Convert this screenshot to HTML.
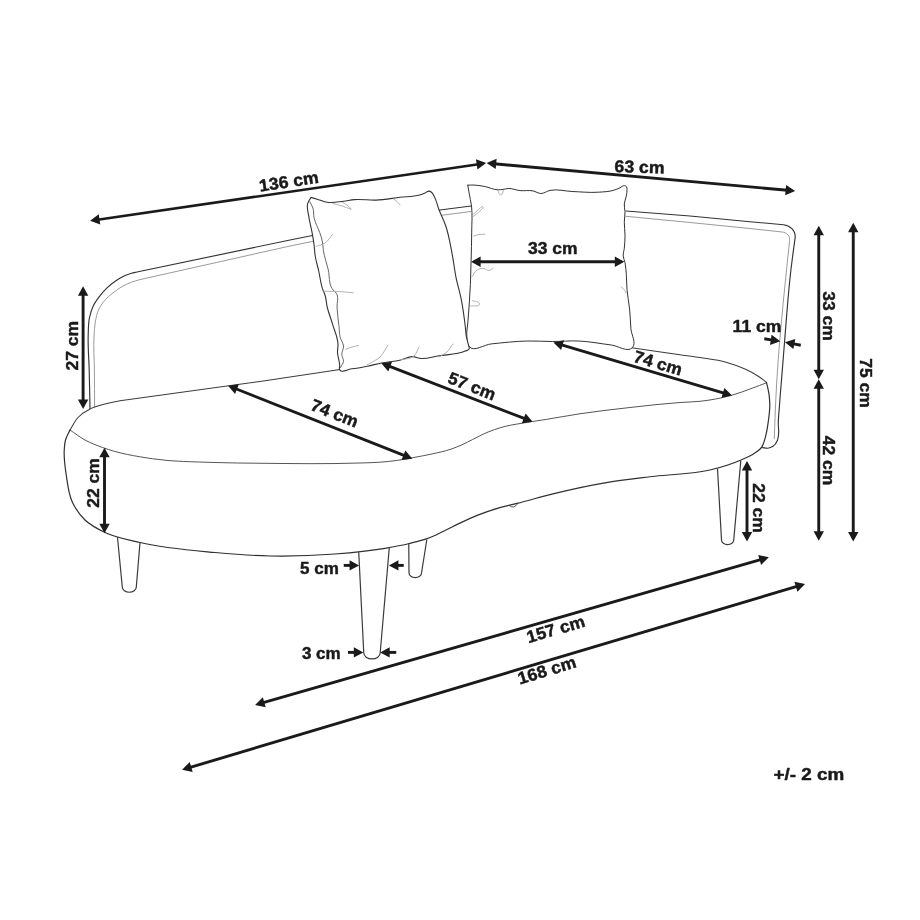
<!DOCTYPE html>
<html><head><meta charset="utf-8"><title>Sofa dimensions</title>
<style>
html,body{margin:0;padding:0;background:#fff;}
svg{display:block;will-change:transform;}
text{font-family:"Liberation Sans",sans-serif;font-weight:bold;fill:#1a1a1a;stroke:#1a1a1a;stroke-width:0.45px;stroke-linejoin:round;}
</style></head>
<body>
<svg width="920" height="920" viewBox="0 0 920 920">
<rect width="920" height="920" fill="#fff"/>
<path d="M90.00 408.50 C89.73 395.67 89.52 382.83 89.20 370.00 C88.91 358.33 87.76 346.66 88.20 335.00 C88.42 329.32 88.24 323.56 89.40 318.00 C90.26 313.89 91.36 309.77 93.20 306.00 C94.73 302.86 96.82 300.01 98.90 297.20 C101.22 294.06 103.71 291.02 106.50 288.30 C109.18 285.69 112.12 283.33 115.20 281.20 C117.70 279.47 120.27 277.82 123.00 276.50 C125.72 275.18 128.59 274.14 131.50 273.30 C133.31 272.78 135.17 272.43 137.00 272.00 L290 240 L440 210 L471 206" fill="none" stroke="#333333" stroke-width="1.15" stroke-linecap="round" stroke-linejoin="round" />
<path d="M94.60 407.00 C94.53 394.67 94.51 382.33 94.40 370.00 C94.30 359.00 93.39 347.98 94.00 337.00 C94.28 331.99 94.38 326.93 95.30 322.00 C96.12 317.61 96.96 313.12 98.90 309.10 C100.58 305.60 102.92 302.40 105.50 299.50 C108.33 296.32 111.78 293.74 115.20 291.20 C117.71 289.34 120.26 287.51 123.00 286.00 C125.72 284.50 128.59 283.29 131.50 282.20 C134.28 281.16 137.17 280.47 140.00 279.60 L290 246 L440 215.5 L471 211.5" fill="none" stroke="#9a9a9a" stroke-width="1.00" stroke-linecap="round" stroke-linejoin="round" />
<path d="M626 211 L690 216 L750 221.7 L783.5 224.7 C789.5 225.3 796.0 230 795.1 238 C793.70 248.67 792.16 259.32 790.90 270.00 C788.16 293.26 786.63 316.65 784.70 340.00 C783.80 350.86 782.97 361.73 782.10 372.60 C781.23 383.47 780.24 394.32 779.50 405.20 C779.06 411.70 778.18 418.19 778.30 424.70 C778.35 427.34 778.85 429.97 778.70 432.60 C778.55 435.23 778.45 437.98 777.40 440.40 C776.42 442.65 775.03 444.92 773.00 446.30 C771.47 447.34 769.63 448.00 767.80 448.20 C766.07 448.39 764.33 447.80 762.60 447.60" fill="none" stroke="#333333" stroke-width="1.15" stroke-linecap="round" stroke-linejoin="round" />
<path d="M626 216.3 L690 222.5 L750 228.5 L782 232 C786.5 232.6 790.2 235.5 789.6 240.5 C788.57 250.33 787.51 260.16 786.50 270.00 C784.11 293.32 781.71 316.64 779.80 340.00 C778.73 353.03 777.70 366.06 776.90 379.10 C776.10 392.12 775.51 405.16 775.00 418.20 C774.73 424.97 774.53 431.73 774.30 438.50" fill="none" stroke="#9a9a9a" stroke-width="1.00" stroke-linecap="round" stroke-linejoin="round" />
<path d="M70.00 430.00 C72.67 425.83 74.58 421.08 78.00 417.50 C81.39 413.96 85.64 411.24 90.00 409.00 C94.69 406.59 99.91 405.38 105.00 404.00 C109.93 402.66 115.00 401.87 120.00 400.80 L260 381.5 L340 369.5" fill="none" stroke="#3c3c3c" stroke-width="1.05" stroke-linecap="round" stroke-linejoin="round" />
<path d="M630.00 347.50 C646.67 349.93 663.32 352.44 680.00 354.80 C686.67 355.74 693.35 356.56 700.00 357.60 C708.73 358.96 717.59 359.82 726.10 362.20 C732.76 364.06 739.34 366.36 745.60 369.30 C750.11 371.41 754.56 373.73 758.70 376.50 C761.41 378.31 763.90 380.43 766.50 382.40" fill="none" stroke="#3c3c3c" stroke-width="1.05" stroke-linecap="round" stroke-linejoin="round" />
<path d="M70.00 430.00 C75.00 433.33 79.72 437.12 85.00 440.00 C90.57 443.04 96.55 445.29 102.50 447.50 C118.52 453.44 135.61 456.22 152.50 458.75 C173.14 461.84 194.14 461.77 215.00 462.50 C229.99 463.02 245.00 463.09 260.00 463.25 C293.33 463.61 326.69 464.12 360.00 463.00 C366.67 462.78 373.35 462.69 380.00 462.20 C385.82 461.77 391.63 461.22 397.40 460.40 C402.36 459.70 407.27 458.71 412.20 457.80 C418.88 456.57 425.57 455.38 432.20 453.90 C438.47 452.50 444.82 451.28 450.90 449.20 C454.57 447.95 458.16 446.47 461.70 444.90 C465.40 443.25 468.97 441.31 472.60 439.50 C476.24 437.68 479.79 435.67 483.50 434.00 C487.03 432.41 490.64 430.98 494.30 429.70 C497.88 428.45 501.52 427.32 505.20 426.40 C508.80 425.50 512.46 424.88 516.10 424.20 C521.51 423.19 526.96 422.36 532.40 421.50 C537.03 420.77 541.67 420.12 546.30 419.40 C557.55 417.65 568.74 415.44 580.00 413.75 C596.61 411.25 613.31 409.38 630.00 407.50 C646.64 405.63 663.29 403.69 680.00 402.50 C686.66 402.02 693.36 402.02 700.00 401.30 C710.55 400.15 721.07 398.25 731.30 395.40 C738.40 393.42 745.28 390.72 752.20 388.20 C756.99 386.46 761.73 384.60 766.50 382.80" fill="none" stroke="#555" stroke-width="1.00" stroke-linecap="round" stroke-linejoin="round" />
<path d="M70.00 430.00 C68.50 433.33 66.47 436.47 65.50 440.00 C64.61 443.24 64.47 446.65 64.25 450.00 C63.70 458.34 65.02 466.73 66.25 475.00 C67.63 484.30 68.42 494.03 72.50 502.50 C75.61 508.96 79.82 515.04 85.00 520.00 C90.68 525.44 97.92 529.09 105.00 532.50 C115.93 537.76 128.19 539.72 140.00 542.50 C164.55 548.27 189.89 550.17 215.00 552.50 C233.29 554.20 251.63 555.63 270.00 556.00 C291.67 556.44 313.39 555.68 335.00 554.00 C351.72 552.70 368.46 551.10 385.00 548.30 C393.17 546.92 401.35 545.46 409.40 543.50 C415.32 542.06 421.27 540.67 427.00 538.60 C432.49 536.62 437.72 533.98 443.00 531.50 C448.15 529.08 453.16 526.35 458.30 523.90 C464.74 520.83 471.17 517.73 477.80 515.10 C484.23 512.55 490.77 510.27 497.40 508.30 C503.86 506.38 510.47 505.07 517.00 503.40 C529.70 500.16 542.26 496.38 555.00 493.30 C571.55 489.30 588.21 485.65 605.00 482.80 C621.57 479.98 638.32 478.30 655.00 476.25 C673.31 474.00 692.07 474.36 710.00 470.00 C720.80 467.37 731.51 464.14 741.70 459.70 C745.25 458.15 748.91 456.75 752.20 454.70 C755.72 452.51 759.61 450.36 761.90 446.90 C763.68 444.21 764.28 440.89 765.20 437.80 C766.85 432.27 767.62 426.51 768.40 420.80 C769.10 415.63 769.82 410.42 769.80 405.20 C769.78 401.73 769.55 398.25 769.10 394.80 C768.55 390.61 767.37 386.53 766.50 382.40" fill="none" stroke="#303030" stroke-width="1.20" stroke-linecap="round" stroke-linejoin="round" />
<path d="M509.3 505.6 Q513.8 509.6 518 503.3" fill="none" stroke="#444" stroke-width="0.90" stroke-linecap="round" stroke-linejoin="round" />
<path d="M117.50 537.50 L122.30 587.00 A7.00 5.25 0 0 0 136.30 587.00 L140.00 542.50" fill="none" stroke="#3a3a3a" stroke-width="1.20" stroke-linecap="round" stroke-linejoin="round" />
<path d="M358.75 552.50 L363.75 652.80 A8.22 6.17 0 0 0 380.20 652.80 L389.25 548.00" fill="none" stroke="#3a3a3a" stroke-width="1.20" stroke-linecap="round" stroke-linejoin="round" />
<path d="M408.75 543.75 L409.00 573.00 A6.25 4.69 0 0 0 421.50 573.00 L426.75 540.00" fill="none" stroke="#3a3a3a" stroke-width="1.20" stroke-linecap="round" stroke-linejoin="round" />
<path d="M717.50 468.75 L721.50 540.00 A6.12 4.59 0 0 0 733.75 540.00 L740.75 461.25" fill="none" stroke="#3a3a3a" stroke-width="1.20" stroke-linecap="round" stroke-linejoin="round" />
<path d="M467.80 185.20 C469.53 185.13 471.27 184.98 473.00 185.00 C476.96 185.05 480.90 185.78 484.80 186.50 C489.20 187.32 493.33 189.74 497.80 189.80 C499.54 189.82 501.27 189.61 503.00 189.40 C504.78 189.18 506.51 188.61 508.30 188.50 C512.25 188.26 516.06 190.19 520.00 190.60 C524.31 191.05 528.75 190.03 533.00 190.90 C535.72 191.46 538.13 193.45 540.90 193.50 C544.10 193.56 546.87 191.08 550.00 190.40 C557.24 188.82 564.80 191.21 572.20 191.50 C580.90 191.84 589.62 192.80 598.30 192.20 C603.53 191.84 608.90 191.76 613.90 190.20 C615.99 189.55 618.01 188.69 620.00 187.80 C621.46 187.15 622.72 185.47 624.30 185.70 C625.14 185.82 626.08 186.13 626.60 186.80 C627.15 187.52 626.93 188.59 627.00 189.50 C627.16 191.67 626.66 193.85 626.30 196.00 C625.84 198.71 624.50 201.26 624.30 204.00 C624.12 206.57 624.94 209.12 625.00 211.70 C625.08 215.21 624.34 218.69 624.30 222.20 C624.24 226.54 625.00 230.86 625.00 235.20 C625.00 239.57 624.78 243.95 624.30 248.30 C624.02 250.88 623.00 253.41 623.20 256.00 C623.37 258.27 624.53 260.37 625.00 262.60 C625.81 266.44 625.98 270.39 626.30 274.30 C626.72 279.39 626.57 284.51 627.00 289.60 C627.55 296.13 628.95 302.57 629.60 309.10 C630.25 315.62 630.42 322.17 630.90 328.70 C631.36 335.00 636.65 342.92 632.40 347.60 C627.64 352.85 618.33 345.87 611.30 345.00 C600.43 343.66 589.64 341.47 578.70 341.00 C570.01 340.62 561.30 341.51 552.60 341.50 C544.33 341.49 536.07 340.83 527.80 341.00 C515.60 341.24 503.44 342.65 491.30 343.90 C483.89 344.66 473.68 352.37 469.10 346.50 C466.70 343.42 467.03 338.90 466.80 335.00 C466.56 330.99 467.48 327.00 467.80 323.00 C468.26 317.34 468.71 311.67 469.10 306.00 C469.60 298.77 470.07 291.54 470.40 284.30 C470.75 276.50 470.90 268.70 471.10 260.90 C471.35 251.33 471.64 241.77 471.70 232.20 C471.75 223.47 472.58 214.67 471.50 206.00 C470.96 201.63 469.85 197.34 469.10 193.00 C468.65 190.40 468.23 187.80 467.80 185.20" fill="#fff" stroke="#333333" stroke-width="1.00" stroke-linecap="round" stroke-linejoin="round" />
<path d="M310.90 197.40 C313.27 198.10 315.64 198.79 318.00 199.50 C321.07 200.42 324.04 201.78 327.20 202.30 C332.57 203.18 338.09 201.83 343.50 201.20 C347.12 200.78 350.68 199.93 354.30 199.60 C361.51 198.95 368.77 200.41 376.00 200.10 C384.05 199.76 392.00 198.24 400.00 197.30 C406.53 196.54 413.32 196.95 419.60 195.00 C421.43 194.43 423.22 193.73 425.00 193.00 C426.45 192.41 427.75 190.84 429.30 191.10 C430.24 191.26 431.08 191.87 431.80 192.50 C432.76 193.34 433.25 194.60 433.90 195.70 C436.48 200.07 437.26 205.27 439.10 210.00 C441.16 215.29 443.84 220.34 445.70 225.70 C448.90 234.94 450.34 244.70 452.20 254.30 C453.71 262.10 454.52 270.02 456.10 277.80 C457.59 285.12 459.85 292.27 461.30 299.60 C463.00 308.23 464.13 316.97 465.20 325.70 C465.68 329.59 465.74 333.55 466.50 337.40 C467.02 340.03 468.01 342.56 468.50 345.20 C468.74 346.49 469.65 347.91 469.10 349.10 C468.49 350.43 466.53 350.49 465.20 351.10 C457.18 354.80 447.83 354.38 439.10 355.70 C432.62 356.68 426.08 359.31 419.60 358.30 C417.36 357.95 415.26 356.78 413.00 356.60 C408.52 356.25 404.39 359.22 400.00 360.20 C393.91 361.56 387.62 361.81 381.50 363.00 C376.77 363.92 372.13 365.26 367.40 366.20 C362.29 367.22 357.18 368.25 352.00 368.80 C347.85 369.24 340.53 373.54 339.50 369.50 C339.19 368.27 339.69 366.97 339.70 365.70 C339.72 361.27 337.64 357.03 337.50 352.60 C337.41 349.70 338.12 346.80 338.00 343.90 C337.73 337.13 334.52 330.80 332.60 324.30 C330.89 318.51 328.58 312.88 327.20 307.00 C326.27 303.04 326.28 298.86 325.00 295.00 C324.39 293.16 323.46 291.43 322.80 289.60 C320.52 283.31 319.99 276.52 318.50 270.00 C317.43 265.33 315.95 260.74 315.20 256.00 C314.63 252.43 314.56 248.79 314.10 245.20 C313.54 240.85 312.78 236.52 312.00 232.20 C311.02 226.74 309.46 221.39 308.70 215.90 C308.15 211.92 306.57 207.78 307.60 203.90 C308.22 201.55 309.80 199.57 310.90 197.40" fill="#fff" stroke="#333333" stroke-width="1.10" stroke-linecap="round" stroke-linejoin="round" />
<path d="M309.80 201.70 C310.87 203.90 312.26 205.97 313.00 208.30 C313.98 211.40 313.41 214.82 314.10 218.00 C315.17 222.96 317.97 227.39 319.60 232.20 C320.57 235.08 321.67 237.93 322.30 240.90 C322.99 244.11 322.89 247.45 323.40 250.70 C324.44 257.26 326.84 263.53 328.30 270.00 C329.69 276.13 328.71 283.14 332.00 288.50 C333.36 290.72 335.91 292.13 337.00 294.50 C338.74 298.29 336.83 302.84 337.00 307.00 C337.26 313.53 338.30 320.00 339.00 326.50 C339.39 330.13 339.30 333.86 340.20 337.40 C340.96 340.38 343.24 342.94 343.50 346.00 C343.75 348.98 341.61 351.82 341.80 354.80 C341.95 357.03 343.70 359.07 343.50 361.30 C343.28 363.72 341.30 365.63 340.20 367.80" fill="none" stroke="#555" stroke-width="0.90" stroke-linecap="round" stroke-linejoin="round" />
<path d="M332.60 203.40 C335.73 204.27 338.90 205.01 342.00 206.00 C345.04 206.98 348.00 208.20 351.00 209.30" fill="none" stroke="#aaaaaa" stroke-width="0.90" stroke-linecap="round" stroke-linejoin="round" />
<path d="M342.40 202.30 C343.93 203.20 345.58 203.93 347.00 205.00 C348.47 206.10 349.67 207.53 351.00 208.80" fill="none" stroke="#aaaaaa" stroke-width="0.90" stroke-linecap="round" stroke-linejoin="round" />
<path d="M316.30 246.30 C319.20 245.20 322.41 244.70 325.00 243.00 C328.22 240.89 330.07 237.20 332.60 234.30" fill="none" stroke="#aaaaaa" stroke-width="0.90" stroke-linecap="round" stroke-linejoin="round" />
<path d="M393.50 199.00 C394.67 199.83 395.94 200.54 397.00 201.50 C398.14 202.53 399.00 203.83 400.00 205.00" fill="none" stroke="#aaaaaa" stroke-width="0.90" stroke-linecap="round" stroke-linejoin="round" />
<path d="M324.00 291.20 C328.67 291.30 333.34 291.26 338.00 291.50 C343.11 291.76 348.20 292.37 353.30 292.80" fill="none" stroke="#aaaaaa" stroke-width="0.90" stroke-linecap="round" stroke-linejoin="round" />
<path d="M345.60 349.30 C347.73 348.53 349.82 347.63 352.00 347.00 C354.20 346.36 356.47 346.00 358.70 345.50" fill="none" stroke="#aaaaaa" stroke-width="0.90" stroke-linecap="round" stroke-linejoin="round" />
<path d="M367.40 364.60 C371.60 362.07 376.46 360.40 380.00 357.00 C383.47 353.67 385.33 349.00 388.00 345.00" fill="none" stroke="#aaaaaa" stroke-width="0.90" stroke-linecap="round" stroke-linejoin="round" />
<path d="M439.00 357.00 C441.67 355.33 444.67 354.11 447.00 352.00 C449.47 349.76 451.00 346.67 453.00 344.00" fill="none" stroke="#aaaaaa" stroke-width="0.90" stroke-linecap="round" stroke-linejoin="round" />
<path d="M400.00 360.00 C404.67 358.67 410.42 359.28 414.00 356.00 C416.53 353.68 417.33 350.00 419.00 347.00" fill="none" stroke="#aaaaaa" stroke-width="0.90" stroke-linecap="round" stroke-linejoin="round" />
<path d="M472.40 215.20 C474.27 213.47 475.94 211.50 478.00 210.00 C479.57 208.85 482.31 205.18 483.00 207.00 C483.59 208.56 481.11 209.76 480.00 211.00 C477.87 213.39 475.00 215.00 472.50 217.00" fill="none" stroke="#aaaaaa" stroke-width="0.90" stroke-linecap="round" stroke-linejoin="round" />
<path d="M473.50 236.00 C475.33 235.53 477.13 234.90 479.00 234.60 C480.98 234.28 483.00 234.33 485.00 234.20" fill="none" stroke="#aaaaaa" stroke-width="0.90" stroke-linecap="round" stroke-linejoin="round" />
<path d="M472.00 277.00 C473.67 274.67 474.55 271.49 477.00 270.00 C479.04 268.76 481.63 268.20 484.00 268.50 C485.78 268.73 487.22 270.72 489.00 270.50 C490.56 270.31 491.67 268.83 493.00 268.00" fill="none" stroke="#aaaaaa" stroke-width="0.90" stroke-linecap="round" stroke-linejoin="round" />
<path d="M470.50 306.00 C473.50 305.33 479.65 307.07 479.50 304.00 C479.37 301.24 474.50 301.67 472.00 300.50" fill="none" stroke="#aaaaaa" stroke-width="0.90" stroke-linecap="round" stroke-linejoin="round" />
<path d="M497.80 190.50 C498.87 192.00 499.16 195.12 501.00 195.00 C502.86 194.88 502.67 191.67 503.50 190.00" fill="none" stroke="#aaaaaa" stroke-width="0.90" stroke-linecap="round" stroke-linejoin="round" />
<path d="M621.00 287.00 C622.17 288.00 623.59 288.76 624.50 290.00 C625.16 290.90 625.50 292.00 626.00 293.00" fill="none" stroke="#aaaaaa" stroke-width="0.90" stroke-linecap="round" stroke-linejoin="round" />
<line x1="97.61" y1="219.75" x2="478.59" y2="164.15" stroke="#1a1a1a" stroke-width="2.55"/>
<polygon points="90.05,220.85 100.25,224.62 98.75,214.33" fill="#1a1a1a"/>
<polygon points="486.15,163.05 477.45,169.57 475.95,159.28" fill="#1a1a1a"/>
<line x1="494.26" y1="163.76" x2="787.54" y2="190.24" stroke="#1a1a1a" stroke-width="2.90"/>
<polygon points="486.65,163.07 495.69,169.11 496.63,158.75" fill="#1a1a1a"/>
<polygon points="795.15,190.93 785.17,195.25 786.11,184.89" fill="#1a1a1a"/>
<line x1="478.69" y1="261.70" x2="616.71" y2="261.70" stroke="#1a1a1a" stroke-width="2.90"/>
<polygon points="471.05,261.70 480.60,266.90 480.60,256.50" fill="#1a1a1a"/>
<polygon points="624.35,261.70 614.80,266.90 614.80,256.50" fill="#1a1a1a"/>
<line x1="83.10" y1="293.89" x2="83.10" y2="401.41" stroke="#1a1a1a" stroke-width="2.90"/>
<polygon points="83.10,286.25 77.90,295.80 88.30,295.80" fill="#1a1a1a"/>
<polygon points="83.10,409.05 77.90,399.50 88.30,399.50" fill="#1a1a1a"/>
<line x1="104.50" y1="455.29" x2="104.50" y2="525.71" stroke="#1a1a1a" stroke-width="2.90"/>
<polygon points="104.50,447.65 99.30,457.20 109.70,457.20" fill="#1a1a1a"/>
<polygon points="104.50,533.35 99.30,523.80 109.70,523.80" fill="#1a1a1a"/>
<line x1="235.18" y1="388.49" x2="405.22" y2="455.91" stroke="#1a1a1a" stroke-width="2.90"/>
<polygon points="228.07,385.67 235.04,394.02 238.87,384.36" fill="#1a1a1a"/>
<polygon points="412.33,458.73 401.53,460.04 405.36,450.38" fill="#1a1a1a"/>
<line x1="388.40" y1="365.93" x2="525.50" y2="418.97" stroke="#1a1a1a" stroke-width="2.90"/>
<polygon points="381.27,363.17 388.30,371.47 392.06,361.77" fill="#1a1a1a"/>
<polygon points="532.63,421.73 521.84,423.13 525.60,413.43" fill="#1a1a1a"/>
<line x1="560.74" y1="344.58" x2="724.76" y2="393.42" stroke="#1a1a1a" stroke-width="2.90"/>
<polygon points="553.41,342.40 561.08,350.11 564.05,340.14" fill="#1a1a1a"/>
<polygon points="732.09,395.60 721.45,397.86 724.42,387.89" fill="#1a1a1a"/>
<line x1="818.75" y1="233.29" x2="818.75" y2="371.61" stroke="#1a1a1a" stroke-width="2.90"/>
<polygon points="818.75,225.65 813.55,235.20 823.95,235.20" fill="#1a1a1a"/>
<polygon points="818.75,379.25 813.55,369.70 823.95,369.70" fill="#1a1a1a"/>
<line x1="818.75" y1="386.89" x2="818.75" y2="533.21" stroke="#1a1a1a" stroke-width="2.90"/>
<polygon points="818.75,379.25 813.55,388.80 823.95,388.80" fill="#1a1a1a"/>
<polygon points="818.75,540.85 813.55,531.30 823.95,531.30" fill="#1a1a1a"/>
<line x1="853.25" y1="230.29" x2="853.25" y2="533.96" stroke="#1a1a1a" stroke-width="2.90"/>
<polygon points="853.25,222.65 848.05,232.20 858.45,232.20" fill="#1a1a1a"/>
<polygon points="853.25,541.60 848.05,532.05 858.45,532.05" fill="#1a1a1a"/>
<line x1="747.00" y1="468.54" x2="747.00" y2="533.96" stroke="#1a1a1a" stroke-width="2.90"/>
<polygon points="747.00,460.90 741.80,470.45 752.20,470.45" fill="#1a1a1a"/>
<polygon points="747.00,541.60 741.80,532.05 752.20,532.05" fill="#1a1a1a"/>
<line x1="262.41" y1="702.79" x2="761.49" y2="559.41" stroke="#1a1a1a" stroke-width="2.90"/>
<polygon points="255.06,704.90 265.68,707.26 262.81,697.26" fill="#1a1a1a"/>
<polygon points="768.84,557.30 761.09,564.94 758.22,554.94" fill="#1a1a1a"/>
<line x1="189.39" y1="767.62" x2="797.71" y2="586.18" stroke="#1a1a1a" stroke-width="2.90"/>
<polygon points="182.06,769.80 192.70,772.05 189.73,762.09" fill="#1a1a1a"/>
<polygon points="805.04,584.00 797.37,591.71 794.40,581.75" fill="#1a1a1a"/>
<line x1="764.30" y1="338.80" x2="772.69" y2="340.09" stroke="#1a1a1a" stroke-width="2.90"/>
<polygon points="780.25,341.25 770.02,344.94 771.60,334.66" fill="#1a1a1a"/>
<line x1="800.80" y1="345.20" x2="792.47" y2="343.64" stroke="#1a1a1a" stroke-width="2.90"/>
<polygon points="784.96,342.24 795.30,338.88 793.39,349.10" fill="#1a1a1a"/>
<line x1="343.75" y1="565.40" x2="351.46" y2="565.40" stroke="#1a1a1a" stroke-width="2.90"/>
<polygon points="359.10,565.40 349.55,570.60 349.55,560.20" fill="#1a1a1a"/>
<line x1="403.75" y1="565.40" x2="396.54" y2="565.40" stroke="#1a1a1a" stroke-width="2.90"/>
<polygon points="388.90,565.40 398.45,560.20 398.45,570.60" fill="#1a1a1a"/>
<line x1="348.00" y1="652.40" x2="355.71" y2="652.40" stroke="#1a1a1a" stroke-width="2.90"/>
<polygon points="363.35,652.40 353.80,657.60 353.80,647.20" fill="#1a1a1a"/>
<line x1="396.25" y1="652.40" x2="387.79" y2="652.40" stroke="#1a1a1a" stroke-width="2.90"/>
<polygon points="380.15,652.40 389.70,647.20 389.70,657.60" fill="#1a1a1a"/>
<text transform="translate(288.80 181.40) rotate(-8.60)" x="0" y="5.90" text-anchor="middle" font-size="17.00" textLength="60.0" lengthAdjust="spacingAndGlyphs">136 cm</text>
<text transform="translate(639.50 166.80) rotate(1.80)" x="0" y="5.90" text-anchor="middle" font-size="17.00" textLength="50.0" lengthAdjust="spacingAndGlyphs">63 cm</text>
<text transform="translate(552.70 248.30) rotate(0.00)" x="0" y="5.90" text-anchor="middle" font-size="17.00" textLength="49.5" lengthAdjust="spacingAndGlyphs">33 cm</text>
<text transform="translate(72.20 345.80) rotate(-90.00)" x="0" y="5.90" text-anchor="middle" font-size="17.00" textLength="49.5" lengthAdjust="spacingAndGlyphs">27 cm</text>
<text transform="translate(93.00 483.00) rotate(-90.00)" x="0" y="5.90" text-anchor="middle" font-size="17.00" textLength="49.5" lengthAdjust="spacingAndGlyphs">22 cm</text>
<text transform="translate(334.60 413.20) rotate(21.70)" x="0" y="5.90" text-anchor="middle" font-size="17.00" textLength="49.5" lengthAdjust="spacingAndGlyphs">74 cm</text>
<text transform="translate(472.00 386.00) rotate(21.50)" x="0" y="5.90" text-anchor="middle" font-size="17.00" textLength="49.5" lengthAdjust="spacingAndGlyphs">57 cm</text>
<text transform="translate(658.00 363.00) rotate(16.60)" x="0" y="5.90" text-anchor="middle" font-size="17.00" textLength="49.5" lengthAdjust="spacingAndGlyphs">74 cm</text>
<text transform="translate(757.00 326.00) rotate(0.00)" x="0" y="5.90" text-anchor="middle" font-size="17.00" textLength="48.8" lengthAdjust="spacingAndGlyphs">11 cm</text>
<text transform="translate(829.30 316.10) rotate(90.00)" x="0" y="5.90" text-anchor="middle" font-size="17.00" textLength="49.5" lengthAdjust="spacingAndGlyphs">33 cm</text>
<text transform="translate(865.60 383.00) rotate(90.00)" x="0" y="5.90" text-anchor="middle" font-size="17.00" textLength="49.5" lengthAdjust="spacingAndGlyphs">75 cm</text>
<text transform="translate(829.30 460.50) rotate(90.00)" x="0" y="5.90" text-anchor="middle" font-size="17.00" textLength="49.5" lengthAdjust="spacingAndGlyphs">42 cm</text>
<text transform="translate(759.40 508.00) rotate(90.00)" x="0" y="5.90" text-anchor="middle" font-size="17.00" textLength="49.5" lengthAdjust="spacingAndGlyphs">22 cm</text>
<text transform="translate(319.40 567.80) rotate(0.00)" x="0" y="5.90" text-anchor="middle" font-size="17.00" textLength="38.8" lengthAdjust="spacingAndGlyphs">5 cm</text>
<text transform="translate(321.30 652.80) rotate(0.00)" x="0" y="5.90" text-anchor="middle" font-size="17.00" textLength="38.8" lengthAdjust="spacingAndGlyphs">3 cm</text>
<text transform="translate(555.60 629.00) rotate(-16.40)" x="0" y="5.90" text-anchor="middle" font-size="17.00" textLength="60.0" lengthAdjust="spacingAndGlyphs">157 cm</text>
<text transform="translate(546.80 670.10) rotate(-17.00)" x="0" y="5.90" text-anchor="middle" font-size="17.00" textLength="60.0" lengthAdjust="spacingAndGlyphs">168 cm</text>
<text transform="translate(808.80 774.00) rotate(0.00)" x="0" y="5.90" text-anchor="middle" font-size="17.00" textLength="70.7" lengthAdjust="spacingAndGlyphs">+/- 2 cm</text>
</svg>
</body></html>
